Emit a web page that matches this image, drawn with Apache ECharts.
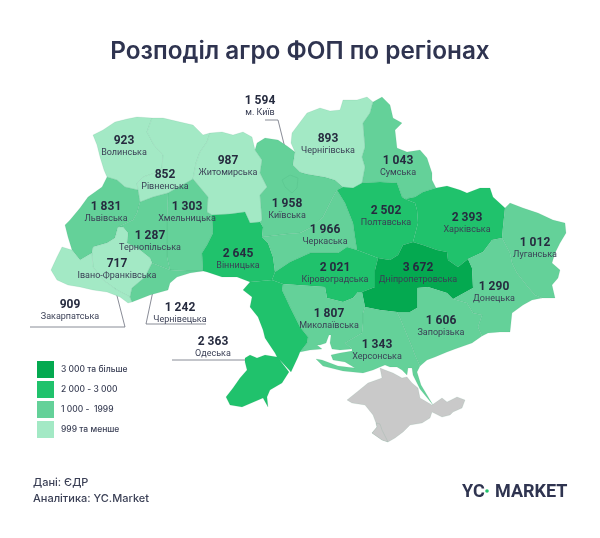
<!DOCTYPE html>
<html>
<head>
<meta charset="utf-8">
<style>html,body{margin:0;padding:0;background:#fff}#chart{width:600px;height:538px}</style>
<script src="https://cdn.jsdelivr.net/npm/echarts@6/dist/echarts.min.js"></script>
</head>
<body>
<div id="chart"></div>
<script>
// дані
const regionNames = ["Волинська","Рівненська","Житомирська","Львівська","Хмельницька","Тернопільська","Івано-Франківська","Закарпатська","Чернівецька","Вінницька","Київська","м. Київ","Чернігівська","Сумська","Черкаська","Полтавська","Харківська","Кіровоградська","Дніпропетровська","Луганська","Донецька","Запорізька","Миколаївська","Херсонська","Одеська"];
const regionValues = [923,852,987,1831,1303,1287,717,909,1242,2645,1958,1594,893,1043,1966,2502,2393,2021,3672,1012,1290,1606,1807,1343,2363];
const legendLabels = ["3 000 та більше","2 000 - 3 000","1 000 -  1999","999 та менше"];
const legendColors = ["#04a950","#20c26c","#64d199","#a3e9c5"];
const legendBreaks = [3000,2000,1000,0];

// контури областей (півострів окремо, без даних)
const shapes = {
  "Волинська": [[152,118],[137,117],[127,119],[115,122],[103,130],[93,135],[97,145],[100,157],[104,170],[107,177],[117,180],[125,187],[138,190],[137,183],[143,177],[155,173],[162,168],[163,155],[154,145],[147,132]],
  "Рівненська": [[152,118],[163,118],[180,122],[193,125],[203,135],[210,133],[207,142],[200,152],[196,163],[193,179],[177,188],[168,193],[153,197],[140,202],[138,190],[137,183],[143,177],[155,173],[162,168],[163,155],[154,145],[147,132]],
  "Житомирська": [[210,133],[222,132],[233,135],[243,132],[252,137],[255,150],[262,160],[260,173],[267,187],[260,195],[262,220],[260,222],[250,223],[245,212],[230,214],[212,215],[207,212],[208,197],[193,179],[196,163],[200,152],[207,142]],
  "Львівська": [[107,177],[117,180],[125,187],[138,190],[140,202],[137,213],[133,220],[118,227],[115,238],[107,243],[93,247],[92,253],[80,260],[72,250],[68,237],[65,225],[70,220],[80,208],[88,197],[102,187]],
  "Хмельницька": [[168,193],[177,188],[193,179],[208,197],[207,212],[212,215],[213,233],[207,245],[202,253],[203,271],[187,271],[170,270],[167,257],[167,223]],
  "Тернопільська": [[140,202],[153,197],[168,193],[167,223],[167,257],[170,270],[152,263],[150,258],[140,250],[127,243],[128,233],[123,227],[118,227],[133,220],[137,213]],
  "Івано-Франківська": [[118,227],[123,227],[128,233],[127,243],[140,250],[150,258],[152,263],[145,277],[132,288],[130,297],[117,290],[103,280],[93,267],[92,253],[93,247],[107,243],[115,238]],
  "Закарпатська": [[62,247],[72,250],[80,260],[92,253],[93,267],[103,280],[117,290],[130,297],[132,302],[128,303],[120,297],[107,292],[93,290],[80,287],[68,285],[57,280],[51,270],[57,257]],
  "Чернівецька": [[152,263],[170,270],[187,271],[203,271],[190,273],[177,277],[170,283],[168,290],[150,295],[132,302],[130,297],[132,288],[145,277]],
  "Вінницька": [[212,215],[230,214],[245,212],[250,223],[260,222],[263,227],[262,237],[268,243],[273,257],[275,272],[272,280],[250,282],[237,277],[222,277],[207,272],[203,271],[202,253],[207,245],[213,233]],
  "Київська": [[255,150],[257,143],[265,138],[278,140],[287,146],[295,152],[293,165],[300,172],[307,174],[325,177],[335,180],[343,187],[337,190],[333,197],[323,217],[312,227],[300,233],[287,234],[262,237],[263,227],[260,222],[262,220],[260,195],[267,187],[260,173],[262,160]],
  "м. Київ": [[282,180],[290,175],[298,178],[297,188],[292,193],[285,187]],
  "Чернігівська": [[295,152],[291,143],[292,133],[307,113],[320,108],[330,111],[340,110],[343,100],[357,100],[367,97],[373,102],[370,113],[363,123],[365,147],[362,157],[365,167],[362,183],[353,188],[343,187],[335,180],[325,177],[307,174],[300,172],[293,165]],
  "Сумська": [[373,102],[382,97],[390,105],[393,118],[402,123],[395,130],[397,148],[407,152],[420,150],[427,158],[432,173],[432,180],[436,188],[423,192],[415,197],[405,199],[402,197],[397,183],[380,182],[362,183],[365,167],[362,157],[365,147],[363,123],[370,113]],
  "Черкаська": [[262,237],[287,234],[300,233],[312,227],[323,217],[333,197],[337,190],[345,203],[353,223],[355,237],[357,250],[347,247],[338,253],[323,253],[310,253],[290,262],[275,272],[273,257],[268,243]],
  "Полтавська": [[337,190],[343,187],[353,188],[362,183],[380,182],[397,183],[402,197],[405,199],[415,203],[417,210],[418,223],[413,242],[403,245],[398,255],[390,260],[378,258],[365,253],[357,250],[355,237],[353,223],[345,203]],
  "Харківська": [[405,199],[415,197],[423,192],[436,188],[447,186],[460,190],[467,193],[480,188],[490,188],[493,197],[505,208],[503,227],[502,238],[492,240],[483,252],[468,259],[458,267],[448,260],[447,252],[437,250],[423,245],[413,242],[418,223],[417,210],[415,203]],
  "Кіровоградська": [[275,272],[290,262],[310,253],[323,253],[338,253],[347,247],[357,250],[365,253],[378,258],[375,270],[375,287],[362,292],[358,292],[353,298],[343,302],[327,298],[325,287],[283,284],[272,280]],
  "Дніпропетровська": [[378,258],[390,260],[398,255],[403,245],[413,242],[423,245],[437,250],[447,252],[448,260],[458,267],[468,259],[472,268],[473,288],[453,299],[447,293],[428,287],[417,288],[417,308],[410,312],[397,312],[380,310],[365,307],[362,292],[375,287],[375,270]],
  "Луганська": [[505,208],[510,203],[523,208],[538,213],[553,220],[565,223],[566,233],[560,243],[555,253],[552,263],[560,270],[558,278],[552,285],[555,298],[542,298],[535,295],[528,287],[517,273],[512,263],[510,253],[502,238],[503,227]],
  "Донецька": [[468,259],[483,252],[492,240],[502,238],[510,253],[512,263],[517,273],[528,287],[535,295],[542,298],[532,300],[523,305],[512,313],[510,332],[500,332],[488,333],[482,336],[478,327],[482,315],[473,313],[467,303],[453,299],[473,288],[472,268]],
  "Запорізька": [[397,312],[410,312],[417,308],[417,288],[428,287],[447,293],[453,299],[467,303],[473,313],[482,315],[478,327],[482,336],[472,343],[455,349],[447,352],[435,357],[427,360],[420,366],[415,355],[412,347],[407,335],[400,318]],
  "Миколаївська": [[283,284],[325,287],[327,298],[343,302],[353,298],[358,292],[362,292],[365,307],[363,313],[363,323],[362,333],[350,340],[345,343],[352,349],[340,350],[332,349],[330,343],[331,335],[329,335],[326,343],[320,345],[317,345],[322,349],[310,350],[300,352],[307,343],[308,337],[300,327],[290,307],[282,290]],
  "Херсонська": [[363,313],[365,307],[380,310],[397,312],[400,318],[407,335],[412,347],[415,355],[420,366],[417,372],[421,385],[433,405],[432,406],[420,389],[413,375],[412,368],[408,368],[407,375],[402,370],[397,367],[390,367],[385,365],[380,367],[373,370],[363,373],[343,371],[323,366],[316,359],[322,360],[338,366],[355,368],[345,362],[333,360],[331,355],[340,353],[352,351],[352,349],[345,343],[350,340],[362,333],[363,323]],
  "Одеська": [[250,282],[272,280],[283,284],[282,290],[290,307],[300,327],[308,337],[307,343],[300,352],[298,357],[291,372],[279,359],[289,372],[282,383],[270,390],[267,397],[268,407],[263,398],[242,407],[230,405],[226,397],[233,388],[240,378],[247,370],[245,362],[245,358],[250,355],[257,358],[265,355],[277,357],[275,353],[265,338],[263,330],[258,317],[250,307],[252,297],[243,290]],
  "Крим": [[380,368],[385,370],[393,373],[402,378],[407,377],[412,383],[418,388],[420,398],[432,405],[442,398],[447,402],[457,397],[465,400],[462,408],[453,412],[450,415],[442,417],[432,412],[430,418],[422,423],[410,425],[403,432],[395,438],[388,442],[382,440],[372,433],[377,427],[376,423],[373,415],[365,405],[352,403],[347,400],[357,392],[368,383],[382,378]],
  "Севастополь": [[376,423],[380,424],[382,430],[388,442],[382,440],[372,433],[377,427]]
};

// центри підписів
const labelAnchors = {
  "Волинська":[124,147],"Рівненська":[165,181],"Житомирська":[228,167],"Львівська":[106,213],"Хмельницька":[187,213],"Тернопільська":[150,242],"Івано-Франківська":[117,270],"Закарпатська":[70,311],"Чернівецька":[180,314],"Вінницька":[238,260],"Київська":[287,210],"м. Київ":[260,107],"Чернігівська":[328,145],"Сумська":[398,167],"Черкаська":[325,236],"Полтавська":[386,217],"Харківська":[467,224],"Кіровоградська":[335,274],"Дніпропетровська":[418,274],"Луганська":[535,249],"Донецька":[494,293],"Запорізька":[441,327],"Миколаївська":[329,320],"Херсонська":[377,351],"Одеська":[213,348]
};

// виноски
const leaders = [
  [[265,120],[278,120],[291,172]],
  [[115,288],[125,327],[30,327]],
  [[153,291],[146,324],[206,324]],
  [[172,360],[249,360]]
];

const geo = {
  type: "FeatureCollection",
  features: Object.keys(shapes).map(name => {
    const ring = shapes[name].concat([shapes[name][0]]);
    return {
      type: "Feature",
      properties: { name: name, cp: labelAnchors[name] || ring[0] },
      geometry: { type: "Polygon", coordinates: [ring] }
    };
  })
};
echarts.registerMap("ukraine", geo);

const chart = echarts.init(document.getElementById("chart"));
const ink = "#2f3450";
chart.setOption({
  backgroundColor: "#fff",
  animation: false,
  title: {
    text: "Розподіл агро ФОП по регіонах",
    left: "center",
    top: 35,
    textStyle: { fontFamily: "Inter", fontSize: 24.3, fontWeight: 600, color: ink }
  },
  visualMap: {
    type: "piecewise",
    left: 22,
    top: 346,
    orient: "vertical",
    itemWidth: 17,
    itemHeight: 17,
    itemGap: 3,
    itemSymbol: "rect",
    textGap: 7,
    hoverLink: false,
    selectedMode: false,
    textStyle: { fontFamily: "Inter", fontSize: 8.5, fontWeight: 500, color: "#3a3f55" },
    pieces: legendLabels.map((label, i) => ({
      min: legendBreaks[i],
      max: i ? legendBreaks[i - 1] - 1 : 100000,
      label: label,
      color: legendColors[i]
    }))
  },
  series: [{
    type: "map",
    map: "ukraine",
    silent: true,
    left: 0,
    top: 0,
    right: 0,
    bottom: 0,
    projection: { project: p => p, unproject: p => p },
    boundingCoords: [[0, 0], [600, 538]],
    itemStyle: { areaColor: "#c9c9c9", borderColor: "rgba(40,130,90,0.2)", borderWidth: 0.5 },
    label: {
      show: true,
      formatter: p => isNaN(p.value) ? "" : "{v|" + p.value.toLocaleString("en-US").replace(",", " ") + "}\n{n|" + p.name + "}",
      rich: {
        v: { fontFamily: "Roboto", fontSize: 12, fontWeight: 700, color: "#262b3f", lineHeight: 12, align: "center" },
        n: { fontFamily: "Roboto", fontSize: 9, color: "#3a3f55", lineHeight: 12, align: "center" }
      }
    },
    data: regionNames.map((name, i) => ({ name: name, value: regionValues[i] }))
  }],
  graphic: [
    ...leaders.map(points => ({
      type: "polyline",
      silent: true,
      shape: { points: points },
      style: { stroke: "#6b6f7c", lineWidth: 0.8, fill: null }
    })),
    { type: "text", left: 33, top: 477, style: { text: "Дані: ЄДР", font: "500 11px Inter", fill: "#3a3f55" } },
    { type: "text", left: 33, top: 493, style: { text: "Аналітика: YC.Market", font: "500 11px Inter", fill: "#3a3f55" } },
    { type: "text", left: 462, top: 483, style: { text: "YC", font: "700 18px Roboto", fill: ink } },
    { type: "circle", shape: { cx: 487, cy: 491, r: 1.8 }, style: { fill: "#20c26c" } },
    { type: "text", left: 495, top: 483, style: { text: "MARKET", font: "700 18px Roboto", fill: ink } }
  ]
});
</script>
</body>
</html>
